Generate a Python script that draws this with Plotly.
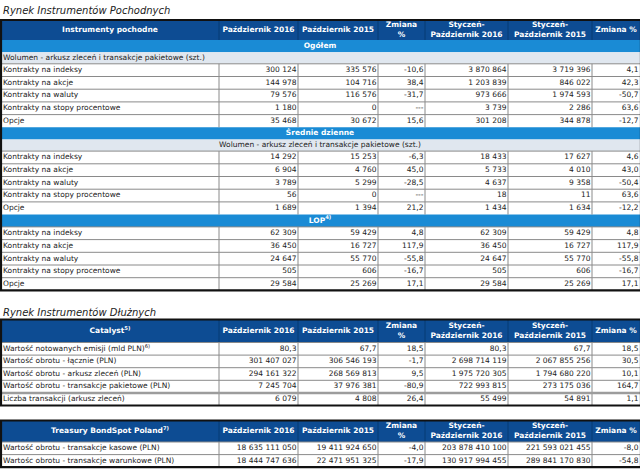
import plotly.graph_objects as go

# ---------------- data ----------------
title_deriv = "Rynek Instrumentów Pochodnych"
title_debt = "Rynek Instrumentów Dłużnych"

col_headers = ["Październik 2016", "Październik 2015", "Zmiana<br>%",
               "Styczeń-<br>Październik 2016", "Styczeń-<br>Październik 2015", "Zmiana %"]
deriv_header = "Instrumenty pochodne"
catalyst_header = "Catalyst<sup>5)</sup>"
tbsp_header = "Treasury BondSpot Poland<sup>7)</sup>"

deriv_labels = ["Kontrakty na indeksy", "Kontrakty na akcje", "Kontrakty na waluty",
                "Kontrakty na stopy procentowe", "Opcje"]
section_names = ["Ogółem", "Średnie dzienne", "LOP<sup>4)</sup>"]
volume_note = "Wolumen - arkusz zleceń i transakcje pakietowe (szt.)"

# Ogółem
ogolem_paz2016 = [300124, 144978, 79576, 1180, 35468]
ogolem_paz2015 = [335576, 104716, 116576, 0, 30672]
ogolem_zmiana = [-10.6, 38.4, -31.7, None, 15.6]
ogolem_ytd2016 = [3870864, 1203839, 973666, 3739, 301208]
ogolem_ytd2015 = [3719396, 846022, 1974593, 2286, 344878]
ogolem_zmiana_ytd = [4.1, 42.3, -50.7, 63.6, -12.7]

# Średnie dzienne
srednie_paz2016 = [14292, 6904, 3789, 56, 1689]
srednie_paz2015 = [15253, 4760, 5299, 0, 1394]
srednie_zmiana = [-6.3, 45.0, -28.5, None, 21.2]
srednie_ytd2016 = [18433, 5733, 4637, 18, 1434]
srednie_ytd2015 = [17627, 4010, 9358, 11, 1634]
srednie_zmiana_ytd = [4.6, 43.0, -50.4, 63.6, -12.2]

# LOP
lop_paz2016 = [62309, 36450, 24647, 505, 29584]
lop_paz2015 = [59429, 16727, 55770, 606, 25269]
lop_zmiana = [4.8, 117.9, -55.8, -16.7, 17.1]
lop_ytd2016 = [62309, 36450, 24647, 505, 29584]
lop_ytd2015 = [59429, 16727, 55770, 606, 25269]
lop_zmiana_ytd = [4.8, 117.9, -55.8, -16.7, 17.1]

# Catalyst
catalyst_labels = ["Wartość notowanych emisji (mld PLN)<sup>6)</sup>",
                   "Wartość obrotu - łącznie (PLN)",
                   "Wartość obrotu - arkusz zleceń (PLN)",
                   "Wartość obrotu - transakcje pakietowe (PLN)",
                   "Liczba transakcji (arkusz zleceń)"]
catalyst_paz2016 = [80.3, 301407027, 294161322, 7245704, 6079]
catalyst_paz2015 = [67.7, 306546193, 268569813, 37976381, 4808]
catalyst_zmiana = [18.5, -1.7, 9.5, -80.9, 26.4]
catalyst_ytd2016 = [80.3, 2698714119, 1975720305, 722993815, 55499]
catalyst_ytd2015 = [67.7, 2067855256, 1794680220, 273175036, 54891]
catalyst_zmiana_ytd = [18.5, 30.5, 10.1, 164.7, 1.1]

# Treasury BondSpot Poland
tbsp_labels = ["Wartość obrotu - transakcje kasowe (PLN)",
               "Wartośc obrotu - transakcje warunkowe (PLN)"]
tbsp_paz2016 = [18635111050, 18444747636]
tbsp_paz2015 = [19411924650, 22471951325]
tbsp_zmiana = [-4.0, -17.9]
tbsp_ytd2016 = [203878410100, 130917994455]
tbsp_ytd2015 = [221593021455, 289841170830]
tbsp_zmiana_ytd = [-8.0, -54.8]

# ---------------- style ----------------
W, H = 640, 470
FONT = "DejaVu Sans"
FS = 7.5
DARK = "#0d4c93"
BRIGHT = "#1a8bd5"
LIGHT = "#e0e7ef"
GRID = "#8a8a8a"
HDR_SEP = "#073a73"
TXT = "#222222"
col_edges = [1, 219, 298, 378, 425, 508, 592, 641]


def fmt(v):
    if v is None:
        return "---"
    if isinstance(v, float):
        return f"{v:.1f}".replace(".", ",")
    return f"{v:,}".replace(",", " ")


shapes = []
texts = {}


def add_text(x, y, s, pos, color=TXT, weight="normal", size=FS, style="normal"):
    key = (pos, color, weight, size, style)
    texts.setdefault(key, []).append((x, y, s))


def rect(x0, y0, x1, y1, fill, line_color=None, lw=0):
    shapes.append(dict(type="rect", xref="x", yref="y", x0=x0, x1=x1, y0=y0, y1=y1,
                       fillcolor=fill, line=dict(width=lw, color=line_color or fill), layer="below"))


def line(x0, y0, x1, y1, color, lw=1):
    shapes.append(dict(type="line", xref="x", yref="y", x0=x0, x1=x1, y0=y0, y1=y1,
                       line=dict(width=lw, color=color), layer="above"))


def draw_table(top, header_h, first_header, rows, thick_after=None):
    y = top
    rect(col_edges[0], y, col_edges[-1], y + header_h, DARK)
    heads = [first_header] + col_headers
    for i, h in enumerate(heads):
        cx = (col_edges[i] + min(col_edges[i + 1], W)) / 2
        add_text(cx, y + header_h / 2, h, "middle center", "white", "bold")
        if i > 0:
            line(col_edges[i], y, col_edges[i], y + header_h, HDR_SEP, 1)
    y += header_h
    data_idx = 0
    for kind, h, content in rows:
        if kind == "section":
            rect(col_edges[0], y, col_edges[-1], y + h, BRIGHT)
            add_text(W / 2, y + h / 2, content, "middle center", "white", "bold")
        elif kind == "note_left":
            rect(col_edges[0], y, col_edges[-1], y + h, LIGHT)
            add_text(col_edges[0] + 2, y + h / 2, content, "middle right")
        elif kind == "note_center":
            rect(col_edges[0], y, col_edges[-1], y + h, LIGHT)
            add_text(W / 2, y + h / 2, content, "middle center")
        else:
            label, vals = content
            rect(col_edges[0], y, col_edges[-1], y + h, "white")
            add_text(col_edges[0] + 2, y + h / 2, label, "middle right")
            for j, v in enumerate(vals):
                xr = min(col_edges[j + 2], W) - 1.5
                add_text(xr, y + h / 2, fmt(v), "middle left")
            for e in col_edges[1:-1]:
                line(e, y, e, y + h, GRID, 1)
            if thick_after is not None and data_idx == thick_after + 1:
                line(col_edges[0], y, col_edges[-1], y, "#9c9c9c", 2.5)
            else:
                line(col_edges[0], y, col_edges[-1], y, GRID, 1)
            data_idx += 1
        y += h
    shapes.append(dict(type="rect", xref="x", yref="y", x0=col_edges[0], x1=col_edges[-1],
                       y0=top, y1=y, line=dict(width=2.2, color="#111111"), layer="above"))
    return y


def data_rows(labels, *cols, h=12.7):
    return [("data", h, (labels[i], [c[i] for c in cols])) for i in range(len(labels))]


rows1 = ([("section", 12.3, section_names[0]), ("note_left", 11.5, volume_note)]
         + data_rows(deriv_labels, ogolem_paz2016, ogolem_paz2015, ogolem_zmiana,
                     ogolem_ytd2016, ogolem_ytd2015, ogolem_zmiana_ytd)
         + [("section", 12.3, section_names[1]), ("note_center", 11.5, volume_note)]
         + data_rows(deriv_labels, srednie_paz2016, srednie_paz2015, srednie_zmiana,
                     srednie_ytd2016, srednie_ytd2015, srednie_zmiana_ytd)
         + [("section", 12.3, section_names[2])]
         + data_rows(deriv_labels, lop_paz2016, lop_paz2015, lop_zmiana,
                     lop_ytd2016, lop_ytd2015, lop_zmiana_ytd))

rows2 = data_rows(catalyst_labels, catalyst_paz2016, catalyst_paz2015, catalyst_zmiana,
                  catalyst_ytd2016, catalyst_ytd2015, catalyst_zmiana_ytd, h=12.6)
rows3 = data_rows(tbsp_labels, tbsp_paz2016, tbsp_paz2015, tbsp_zmiana,
                  tbsp_ytd2016, tbsp_ytd2015, tbsp_zmiana_ytd, h=12.6)

add_text(3, 11.5, title_deriv, "middle right", "#222222", "normal", 10, "italic")
draw_table(20, 20, deriv_header, rows1)
add_text(3, 313, title_debt, "middle right", "#222222", "normal", 10, "italic")
draw_table(319.5, 23, catalyst_header, rows2, thick_after=3)
draw_table(420.5, 21.5, tbsp_header, rows3)

fig = go.Figure()
for (pos, color, weight, size, style), items in texts.items():
    fig.add_trace(go.Scatter(
        x=[it[0] for it in items], y=[it[1] for it in items], text=[it[2] for it in items],
        mode="text", textposition=pos, hoverinfo="skip", showlegend=False, cliponaxis=False,
        textfont=dict(family=FONT, size=size, color=color, weight=weight, style=style)))

fig.update_layout(
    width=W, height=H, margin=dict(l=0, r=0, t=0, b=0),
    paper_bgcolor="white", plot_bgcolor="white", shapes=shapes,
    xaxis=dict(range=[0, W], visible=False, fixedrange=True),
    yaxis=dict(range=[H, 0], visible=False, fixedrange=True),
    showlegend=False,
)
fig.write_html("out.html", config={"displayModeBar": False},
               post_script="document.body.style.margin='0';document.body.style.overflow='hidden';")
